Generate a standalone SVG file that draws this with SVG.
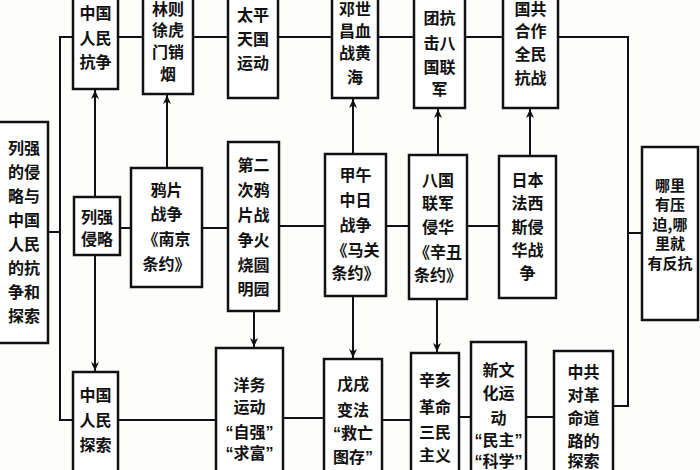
<svg xmlns="http://www.w3.org/2000/svg" width="700" height="470" viewBox="0 0 700 470">
<defs>
<marker id="arr" markerWidth="10" markerHeight="10" refX="9" refY="4" orient="auto" markerUnits="userSpaceOnUse">
<path d="M0,0 L9,4 L0,8 L2.5,4 Z" fill="#111"/>
</marker>
<style>
.box{fill:#fff;stroke:#111;stroke-width:2.5}
.ln{fill:none;stroke:#111;stroke-width:2}
.ar{fill:none;stroke:#111;stroke-width:2;marker-end:url(#arr)}
text{font-family:"Liberation Sans","Noto Sans CJK SC",sans-serif;font-size:16px;fill:#111;text-anchor:middle;dominant-baseline:central;font-weight:bold}
.sm{font-family:"Noto Sans CJK SC",sans-serif;font-size:15px}
</style>
</defs>
<rect width="700" height="470" fill="#fdfdfb"/>
<g id="connectors">
<path class="ln" d="M73,420 H60 V37 H73"/>
<path class="ln" d="M48,232 H60"/>
<path class="ln" d="M118,37 H143 M193,37 H228 M278,37 H332 M378,37 H414 M465,37 H503"/>
<path class="ln" d="M558,37 H628 V406 H613"/>
<path class="ln" d="M628,233 H642"/>
<path class="ln" d="M120,228 H131 M202,228 H228 M279,226 H325 M386,226 H409 M467,226 H499"/>
<path class="ln" d="M118,420 H216 M283,418 H324 M382,420 H411 M459,417 H471 M526,417 H554"/>
<path class="ar" d="M95,197 V90"/>
<path class="ar" d="M95,255 V371"/>
<path class="ar" d="M167,168 V95"/>
<path class="ar" d="M254,311 V347"/>
<path class="ar" d="M353,154 V99"/>
<path class="ar" d="M353,296 V358"/>
<path class="ar" d="M438,155 V109"/>
<path class="ar" d="M437,299 V352"/>
<path class="ar" d="M530,156 V109"/>
</g>
<g id="n-kangzheng"><rect class="box" x="73" y="-5" width="45" height="94"/><text x="95.5"><tspan x="95.5" y="13">中国</tspan><tspan x="95.5" y="38">人民</tspan><tspan x="95.5" y="62">抗争</tspan></text></g>
<g id="n-linzexu"><rect class="box" x="143" y="-5" width="50" height="99"/><text x="168"><tspan x="168" y="9">林则</tspan><tspan x="168" y="30">徐虎</tspan><tspan x="168" y="52">门销</tspan><tspan x="168" y="74">烟</tspan></text></g>
<g id="n-taiping"><rect class="box" x="228" y="-5" width="50" height="103"/><text x="253"><tspan x="253" y="15">太平</tspan><tspan x="253" y="39">天国</tspan><tspan x="253" y="63">运动</tspan></text></g>
<g id="n-dengshichang"><rect class="box" x="332" y="-5" width="46" height="103"/><text x="355"><tspan x="355" y="9">邓世</tspan><tspan x="355" y="31">昌血</tspan><tspan x="355" y="53">战黄</tspan><tspan x="355" y="77">海</tspan></text></g>
<g id="n-yihetuan"><rect class="box" x="414" y="-5" width="51" height="113"/><text x="439.5"><tspan x="439.5" y="18">团抗</tspan><tspan x="439.5" y="43">击八</tspan><tspan x="439.5" y="67">国联</tspan><tspan x="439.5" y="89">军</tspan></text></g>
<g id="n-guogong"><rect class="box" x="503" y="-5" width="55" height="113"/><text x="530.5"><tspan x="530.5" y="9">国共</tspan><tspan x="530.5" y="31">合作</tspan><tspan x="530.5" y="54">全民</tspan><tspan x="530.5" y="78">抗战</tspan></text></g>
<g id="n-root"><rect class="box" x="-2" y="122" width="50" height="221"/><text x="24"><tspan x="24" y="148">列强</tspan><tspan x="24" y="172">的侵</tspan><tspan x="24" y="196">略与</tspan><tspan x="24" y="220">中国</tspan><tspan x="24" y="244">人民</tspan><tspan x="24" y="268">的抗</tspan><tspan x="24" y="292">争和</tspan><tspan x="24" y="316">探索</tspan></text></g>
<g id="n-qinlue"><rect class="box" x="74" y="197" width="46" height="58"/><text x="97"><tspan x="97" y="217">列强</tspan><tspan x="97" y="239">侵略</tspan></text></g>
<g id="n-yapian"><rect class="box" x="131" y="168" width="71" height="119"/><text x="166.5"><tspan x="166.5" y="190">鸦片</tspan><tspan x="166.5" y="214">战争</tspan><tspan x="166.5" y="239">《南京</tspan><tspan x="166.5" y="264">条约》</tspan></text></g>
<g id="n-dierci"><rect class="box" x="228" y="142" width="51" height="169"/><text x="253.5"><tspan x="253.5" y="165">第二</tspan><tspan x="253.5" y="190">次鸦</tspan><tspan x="253.5" y="215">片战</tspan><tspan x="253.5" y="240">争火</tspan><tspan x="253.5" y="265">烧圆</tspan><tspan x="253.5" y="289">明园</tspan></text></g>
<g id="n-jiawu"><rect class="box" x="325" y="154" width="61" height="142"/><text x="355.5"><tspan x="355.5" y="175">甲午</tspan><tspan x="355.5" y="200">中日</tspan><tspan x="355.5" y="225">战争</tspan><tspan x="355.5" y="250">《马关</tspan><tspan x="355.5" y="273">条约》</tspan></text></g>
<g id="n-baguo"><rect class="box" x="409" y="155" width="58" height="144"/><text x="438"><tspan x="438" y="180">八国</tspan><tspan x="438" y="203">联军</tspan><tspan x="438" y="227">侵华</tspan><tspan x="438" y="252">《辛丑</tspan><tspan x="438" y="275">条约》</tspan></text></g>
<g id="n-riben"><rect class="box" x="499" y="156" width="57" height="142"/><text x="527.5"><tspan x="527.5" y="180">日本</tspan><tspan x="527.5" y="203">法西</tspan><tspan x="527.5" y="227">斯侵</tspan><tspan x="527.5" y="250">华战</tspan><tspan x="527.5" y="273">争</tspan></text></g>
<g id="n-nali"><rect class="box" x="642" y="147" width="56" height="173"/><text class="sm" x="670"><tspan x="670" y="184">哪里</tspan><tspan x="670" y="203">有压</tspan><tspan x="670" y="223">迫,哪</tspan><tspan x="670" y="242">里就</tspan><tspan x="670" y="262">有反抗</tspan></text></g>
<g id="n-tansuo"><rect class="box" x="73" y="372" width="45" height="110"/><text x="95.5"><tspan x="95.5" y="395">中国</tspan><tspan x="95.5" y="420">人民</tspan><tspan x="95.5" y="445">探索</tspan></text></g>
<g id="n-yangwu"><rect class="box" x="216" y="348" width="67" height="130"/><text x="249.5"><tspan x="249.5" y="385">洋务</tspan><tspan x="249.5" y="407">运动</tspan><tspan x="249.5" y="432">“自强”</tspan><tspan x="249.5" y="453">“求富”</tspan></text></g>
<g id="n-wuxu"><rect class="box" x="324" y="359" width="58" height="120"/><text x="353"><tspan x="353" y="384">戊戌</tspan><tspan x="353" y="410">变法</tspan><tspan x="353" y="433">“救亡</tspan><tspan x="353" y="457">图存”</tspan></text></g>
<g id="n-xinhai"><rect class="box" x="411" y="353" width="48" height="125"/><text x="435"><tspan x="435" y="380">辛亥</tspan><tspan x="435" y="407">革命</tspan><tspan x="435" y="432">三民</tspan><tspan x="435" y="455">主义</tspan></text></g>
<g id="n-xinwenhua"><rect class="box" x="471" y="342" width="55" height="140"/><text x="498.5"><tspan x="498.5" y="370">新文</tspan><tspan x="498.5" y="393">化运</tspan><tspan x="498.5" y="418">动</tspan><tspan x="498.5" y="440">“民主”</tspan><tspan x="498.5" y="461">“科学”</tspan></text></g>
<g id="n-zhonggong"><rect class="box" x="554" y="351" width="59" height="130"/><text x="583.5"><tspan x="583.5" y="372">中共</tspan><tspan x="583.5" y="395">对革</tspan><tspan x="583.5" y="418">命道</tspan><tspan x="583.5" y="441">路的</tspan><tspan x="583.5" y="461">探索</tspan></text></g>
</svg>
